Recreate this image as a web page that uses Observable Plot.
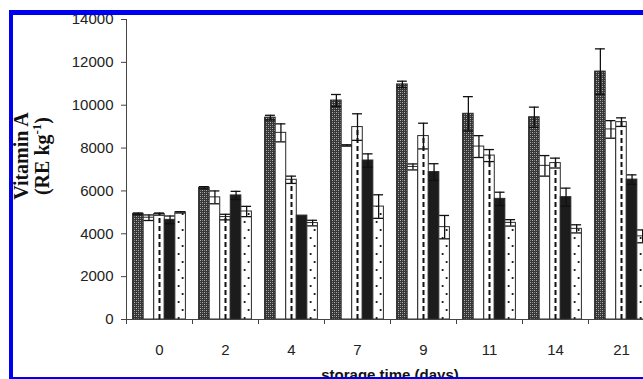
<!DOCTYPE html>
<html><head><meta charset="utf-8">
<script src="https://cdn.jsdelivr.net/npm/d3@7"></script>
<script src="https://cdn.jsdelivr.net/npm/@observablehq/plot@0.6"></script>
<style>
html,body{margin:0;padding:0;background:#fff;overflow:hidden;width:643px;height:379px}
#frame{position:absolute;left:9px;top:10px;width:700px;height:372px;box-sizing:border-box;border:5px solid #0000f0;border-left-width:4px;overflow:hidden;background:#fff}
#chart{position:absolute;left:-13px;top:-15px}
</style></head><body>
<svg width="0" height="0" style="position:absolute"><defs>
<pattern id="chk" patternUnits="userSpaceOnUse" width="4" height="4">
<rect width="4" height="4" fill="#363636"/>
<rect x="0" y="0" width="1" height="1" fill="#b4b4b4"/>
<rect x="2" y="2" width="1" height="1" fill="#b4b4b4"/>
<rect x="2" y="0" width="1" height="1" fill="#808080"/>
<rect x="0" y="2" width="1" height="1" fill="#808080"/>
</pattern></defs></svg>
<div id="frame"><div id="chart"></div></div>
<script>
// storage time categories (days)
const days = ["0", "2", "4", "7", "9", "11", "14", "21"];
// Vitamin A (RE kg-1), five treatments, means and error (±)
const s1 = [4930, 6150, 9420, 10220, 10970, 9600, 9440, 11570];
const e1 = [40, 50, 110, 280, 150, 800, 470, 1060];
const s2 = [4750, 5700, 8710, 8120, 7120, 8070, 7170, 8870];
const e2 = [130, 300, 420, 30, 140, 510, 480, 410];
const s3 = [4920, 4780, 6520, 8980, 8560, 7650, 7300, 9210];
const e3 = [50, 130, 170, 620, 600, 280, 230, 200];
const s4 = [4650, 5790, 4850, 7420, 6880, 5630, 5710, 6530];
const e4 = [180, 190, 0, 310, 390, 310, 420, 220];
const s5 = [5000, 5040, 4500, 5270, 4310, 4510, 4230, 3880];
const e5 = [30, 240, 130, 550, 545, 150, 190, 300];
const yTicks = [0, 2000, 4000, 6000, 8000, 10000, 12000, 14000];

const series = [[s1, e1], [s2, e2], [s3, e3], [s4, e4], [s5, e5]];
const fills = ["url(#chk)", "#ffffff", "#ffffff", "#1c1c1c", "#ffffff"];
const pad = 0.1, bw = 0.16;
const rows = [];
days.forEach((d, i) => series.forEach(([v, e], j) => {
  const x1 = i + pad + j * bw;
  rows.push({i, j, v: v[i], e: e[i], x1, x2: x1 + bw, xm: x1 + bw / 2});
}));
const errRows = rows.filter(d => d.e > 0);

const plot = Plot.plot({
  width: 654, height: 379,
  marginLeft: 126, marginRight: 0, marginTop: 19, marginBottom: 60,
  style: {fontFamily: "'Liberation Sans', Arial, sans-serif", fontSize: "15px", color: "#222", background: "transparent"},
  x: {domain: [0, 8], label: null},
  y: {domain: [0, 14000], label: null},
  color: {type: "identity"},
  marks: [
    Plot.rect(rows, {x1: "x1", x2: "x2", y1: 0, y2: "v", fill: d => fills[d.j], stroke: "#2a2a2a", strokeWidth: 1}),
    Plot.ruleX(rows.filter(d => d.j === 2), {x: "xm", y1: 0, y2: "v", stroke: "#111", strokeWidth: 2, strokeDasharray: "5,3"}),
    Plot.ruleX(rows.filter(d => d.j === 4), {x: "xm", y1: 0, y2: "v", stroke: "#222", strokeWidth: 1.8, strokeDasharray: "2,14", dx: -2}),
    Plot.ruleX(rows.filter(d => d.j === 4), {x: "xm", y1: 0, y2: "v", stroke: "#222", strokeWidth: 1.8, strokeDasharray: "2,14", strokeDashoffset: 8, dx: 2}),
    Plot.ruleX(errRows, {x: "xm", y1: d => d.v - d.e, y2: d => d.v + d.e, stroke: "#111", strokeWidth: 1.3}),
    Plot.ruleY(errRows, {y: d => d.v + d.e, x1: d => d.x1 + 0.005, x2: d => d.x2 - 0.005, stroke: "#111", strokeWidth: 1.3}),
    Plot.ruleY(errRows, {y: d => d.v - d.e, x1: d => d.x1 + 0.005, x2: d => d.x2 - 0.005, stroke: "#111", strokeWidth: 1.3}),
    Plot.ruleY([0], {stroke: "#444"}),
    Plot.ruleX([0], {stroke: "#444"}),
    Plot.axisX(d3.range(9), {tickSize: 5, tickFormat: () => "", stroke: "#444", label: null}),
    Plot.axisX(d3.range(8).map(i => i + 0.5), {tickSize: 0, tickPadding: 25, tickFormat: t => days[Math.floor(t)], label: null}),
    Plot.axisY(yTicks, {tickSize: 5, tickPadding: 8, tickFormat: d3.format("d"), stroke: "#444", label: null})
  ]
});

const svg = d3.select(plot);
const serif = "'Liberation Serif', 'Times New Roman', serif";
svg.append("text").attr("transform", "translate(28,156) rotate(-90)")
  .attr("text-anchor", "middle").attr("font-family", serif).attr("font-weight", "bold")
  .attr("font-size", 20).attr("fill", "#111").text("Vitamin A");
const t2 = svg.append("text").attr("transform", "translate(49,156) rotate(-90)")
  .attr("text-anchor", "middle").attr("font-family", serif).attr("font-weight", "bold")
  .attr("font-size", 20).attr("fill", "#111");
t2.append("tspan").text("(RE kg");
t2.append("tspan").attr("font-size", 13).attr("dy", -8).text("-1");
t2.append("tspan").attr("dy", 8).text(")");
svg.append("text").attr("x", 390).attr("y", 380).attr("text-anchor", "middle")
  .attr("font-family", "'Liberation Sans', Arial, sans-serif").attr("font-weight", "bold")
  .attr("font-size", 15).attr("fill", "#111").text("storage time (days)");

document.getElementById("chart").appendChild(plot);
</script>
</body></html>
